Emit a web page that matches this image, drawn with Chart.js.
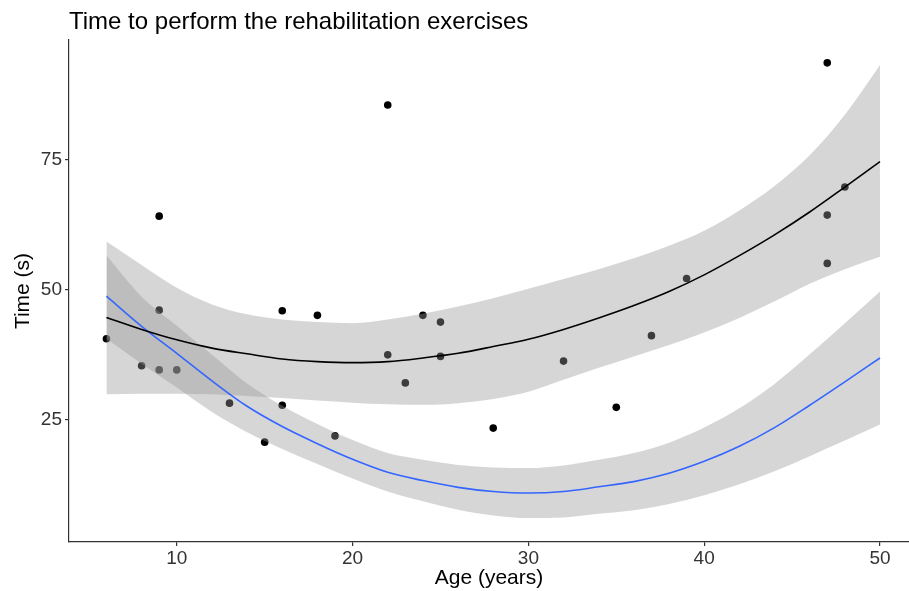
<!DOCTYPE html>
<html lang="en">
<head>
  <meta charset="UTF-8" />
  <title>Rehabilitation exercises</title>
  <script src="https://cdn.jsdelivr.net/npm/chart.js"></script>
  <style>
    html, body { margin: 0; padding: 0; background: #fff; overflow: hidden; }
    /* the canvas is 4px wider than the view: Chart.js keeps a 4px margin on the right
       for the point radius, and the original plot runs to the image edge */
    #wrap { width: 909px; height: 591px; overflow: hidden; }
    canvas { display: block; }
  </style>
</head>
<body>
  <div id="wrap"><canvas id="chart" width="913" height="591"></canvas></div>

  <script>
    // observed points
    const ages  = [6, 8, 9, 9, 9, 10, 13, 15, 16, 16, 18, 19, 22, 22, 23, 24, 25, 25, 28, 32, 35, 37, 39, 47, 47, 47, 48];
    const times = [40.6, 35.4, 64.2, 46.1, 34.6, 34.6, 28.2, 20.7, 46.0, 27.8, 45.1, 21.9, 85.6, 37.5, 32.1, 45.1, 43.8, 37.2, 23.4, 36.3, 27.4, 41.2, 52.2, 93.7, 64.4, 55.1, 69.8];

    // smooth curves read along the x axis
    const fitAges   = [6, 8, 10, 12, 14, 16, 18, 20, 22, 24, 26, 28, 30, 32, 34, 36, 38, 40, 42, 44, 46, 48, 50];
    const blackFit  = [44.7, 42.4, 40.4, 38.8, 37.7, 36.7, 36.2, 36.0, 36.2, 36.9, 37.8, 39.1, 40.5, 42.4, 44.6, 47.0, 49.7, 52.9, 56.6, 60.6, 65.0, 69.8, 74.7];
    const blackLow  = [29.9, 30.0, 30.0, 29.9, 29.6, 29.2, 28.7, 28.3, 28.0, 27.9, 28.2, 29.0, 30.4, 32.7, 35.0, 37.2, 39.4, 41.8, 44.6, 47.8, 51.2, 54.0, 56.4];
    const blackHigh = [59.3, 54.8, 50.4, 47.2, 45.3, 44.3, 43.8, 43.6, 44.3, 45.4, 46.8, 48.4, 50.2, 52.1, 54.0, 56.1, 58.5, 61.4, 65.3, 70.0, 75.9, 83.7, 93.3];
    const blueFit   = [48.8, 43.0, 37.8, 32.5, 27.6, 23.7, 20.4, 17.4, 14.9, 13.3, 12.0, 11.2, 10.9, 11.2, 12.1, 13.1, 14.7, 17.0, 19.9, 23.5, 27.8, 32.3, 36.9];
    const blueLow   = [40.6, 35.8, 31.2, 26.5, 22.6, 19.4, 16.5, 13.7, 11.2, 9.3, 7.7, 6.6, 6.1, 6.2, 6.9, 7.6, 8.8, 10.5, 12.6, 15.1, 18.0, 21.0, 24.1];
    const blueHigh  = [56.6, 48.7, 43.1, 37.5, 32.0, 27.7, 24.2, 21.1, 18.6, 17.3, 16.3, 15.8, 15.7, 16.2, 17.3, 18.6, 20.6, 23.5, 27.2, 31.9, 37.6, 43.6, 49.7];

    const xTicks = [10, 20, 30, 40, 50];
    const yTicks = [25, 50, 75];

    const FONT = '"Liberation Sans", Arial, sans-serif';
    const ribbon = 'rgba(153, 153, 153, 0.4)';

    const pts = (ys) => fitAges.map((a, i) => ({ x: a, y: ys[i] }));

    function curve(ys, color, order) {
      return {
        data: pts(ys),
        borderColor: color,
        borderWidth: 1.6,
        pointRadius: 0,
        cubicInterpolationMode: 'monotone',
        fill: false,
        order
      };
    }

    function band(ys, fill, order) {
      return {
        data: pts(ys),
        borderWidth: 0,
        borderColor: 'rgba(0,0,0,0)',
        backgroundColor: ribbon,
        pointRadius: 0,
        cubicInterpolationMode: 'monotone',
        fill,
        order
      };
    }

    // keep the plot area flush with the axes, as in the original
    function noPadding(s) {
      s.paddingLeft = 0;
      s.paddingRight = 0;
      s.paddingTop = 0;
      s.paddingBottom = 0;
    }

    new Chart(document.getElementById('chart'), {
      type: 'line',
      data: {
        datasets: [
          curve(blackFit, '#000000', 0),
          curve(blueFit, '#3366FF', 1),
          band(blackHigh, '+1', 2),
          band(blackLow, false, 3),
          band(blueHigh, '+1', 4),
          band(blueLow, false, 5),
          {
            data: ages.map((a, i) => ({ x: a, y: times[i] })),
            showLine: false,
            pointRadius: 3.8,
            pointBorderWidth: 0,
            pointBackgroundColor: '#000',
            pointBorderColor: '#000',
            order: 10
          }
        ]
      },
      options: {
        responsive: false,
        animation: false,
        layout: { padding: 0 },
        plugins: {
          legend: { display: false },
          tooltip: { enabled: false },
          title: {
            display: true,
            text: 'Time to perform the rehabilitation exercises',
            align: 'start',
            fullSize: false,
            color: '#000',
            font: { family: FONT, size: 24, weight: 'normal' },
            padding: { top: 8, bottom: 3.2 }
          }
        },
        scales: {
          x: {
            type: 'linear',
            min: 3.87,
            max: 51.65,
            afterBuildTicks: (s) => { s.ticks = xTicks.map(v => ({ value: v })); },
            afterFit: (s) => { s.height = 49; noPadding(s); },
            grid: { drawOnChartArea: false, drawTicks: true, tickLength: 4, color: '#333', lineWidth: 1.2 },
            border: { display: true, color: '#333', width: 1.2 },
            ticks: { color: '#333', padding: 1, font: { family: FONT, size: 19 } },
            title: { display: true, text: 'Age (years)', color: '#000', font: { family: FONT, size: 21 }, padding: { top: 0, bottom: 0 } }
          },
          y: {
            min: 1.48,
            max: 98.1,
            afterBuildTicks: (s) => { s.ticks = yTicks.map(v => ({ value: v })); },
            afterFit: (s) => { s.width = 69; noPadding(s); },
            grid: { drawOnChartArea: false, drawTicks: true, tickLength: 4, color: '#333', lineWidth: 1.2 },
            border: { display: true, color: '#333', width: 1.2 },
            ticks: { color: '#333', padding: 3, font: { family: FONT, size: 19 } },
            title: { display: true, text: 'Time (s)', color: '#000', font: { family: FONT, size: 21 }, padding: { top: 11, bottom: 0 } }
          }
        }
      }
    });
  </script>
</body>
</html>
